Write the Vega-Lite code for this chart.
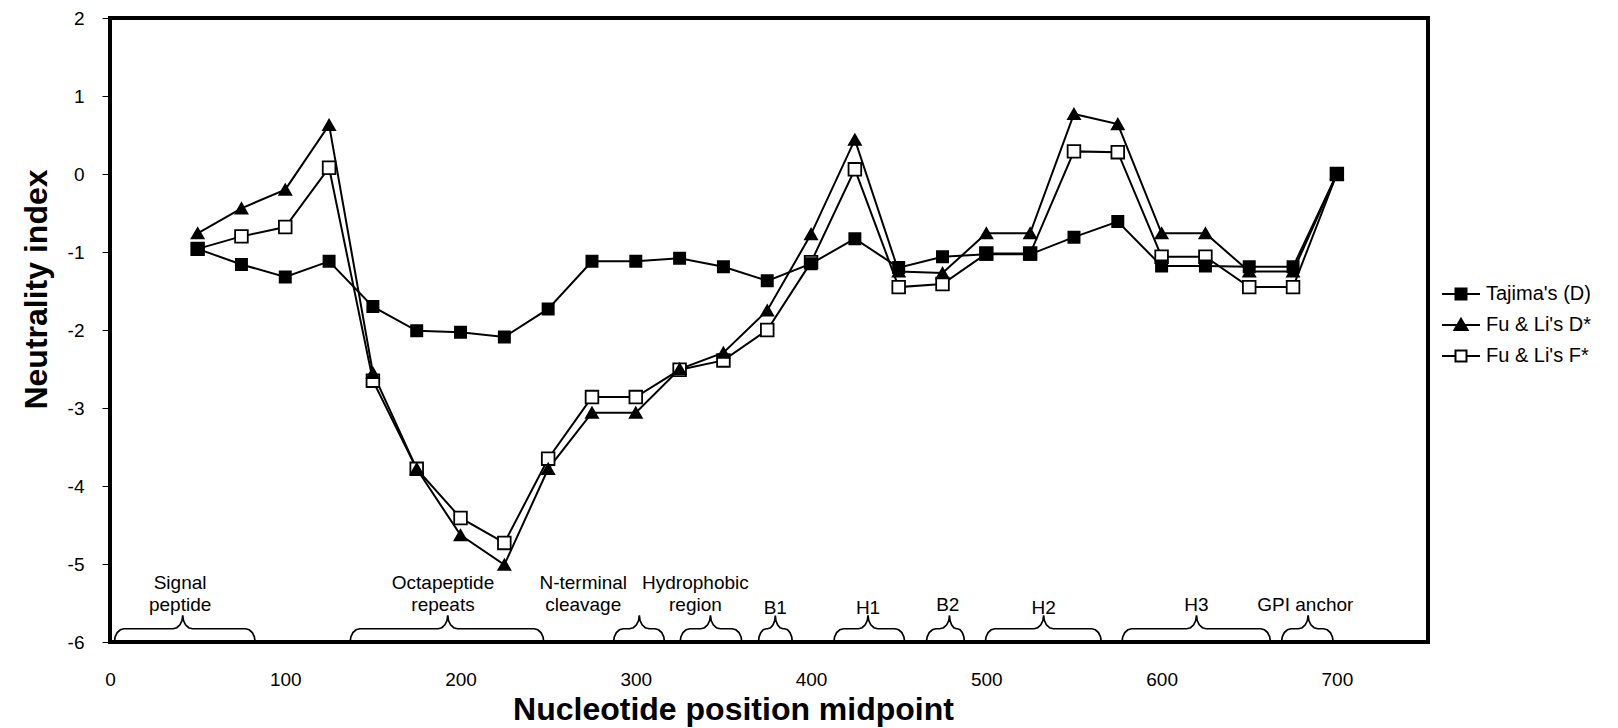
{
  "$schema": "https://vega.github.io/schema/vega-lite/v6.json",
  "width": 1318,
  "height": 624,
  "autosize": {"type": "none"},
  "padding": {"left": 110, "top": 18, "right": 190, "bottom": 86},
  "background": "white",
  "config": {
    "font": "Liberation Sans",
    "view": {"stroke": "black", "strokeWidth": 4},
    "axis": {
      "grid": false,
      "labelFont": "Liberation Sans",
      "labelFontSize": 19,
      "labelColor": "black",
      "titleFont": "Liberation Sans",
      "titleFontSize": 32,
      "titleFontWeight": "bold",
      "titleColor": "black"
    }
  },
  "datasets": {
    "main": [
      {"pos": 50, "series": "Fu & Li's F*", "value": -0.96},
      {"pos": 75, "series": "Fu & Li's F*", "value": -0.80},
      {"pos": 100, "series": "Fu & Li's F*", "value": -0.68},
      {"pos": 125, "series": "Fu & Li's F*", "value": 0.08},
      {"pos": 150, "series": "Fu & Li's F*", "value": -2.65},
      {"pos": 175, "series": "Fu & Li's F*", "value": -3.78},
      {"pos": 200, "series": "Fu & Li's F*", "value": -4.41},
      {"pos": 225, "series": "Fu & Li's F*", "value": -4.73},
      {"pos": 250, "series": "Fu & Li's F*", "value": -3.65},
      {"pos": 275, "series": "Fu & Li's F*", "value": -2.86},
      {"pos": 300, "series": "Fu & Li's F*", "value": -2.86},
      {"pos": 325, "series": "Fu & Li's F*", "value": -2.51},
      {"pos": 350, "series": "Fu & Li's F*", "value": -2.39},
      {"pos": 375, "series": "Fu & Li's F*", "value": -2.00},
      {"pos": 400, "series": "Fu & Li's F*", "value": -1.13},
      {"pos": 425, "series": "Fu & Li's F*", "value": 0.06},
      {"pos": 450, "series": "Fu & Li's F*", "value": -1.45},
      {"pos": 475, "series": "Fu & Li's F*", "value": -1.41},
      {"pos": 500, "series": "Fu & Li's F*", "value": -1.02},
      {"pos": 525, "series": "Fu & Li's F*", "value": -1.02},
      {"pos": 550, "series": "Fu & Li's F*", "value": 0.29},
      {"pos": 575, "series": "Fu & Li's F*", "value": 0.28},
      {"pos": 600, "series": "Fu & Li's F*", "value": -1.06},
      {"pos": 625, "series": "Fu & Li's F*", "value": -1.06},
      {"pos": 650, "series": "Fu & Li's F*", "value": -1.45},
      {"pos": 675, "series": "Fu & Li's F*", "value": -1.45},
      {"pos": 700, "series": "Fu & Li's F*", "value": 0},
      {"pos": 50, "series": "Fu & Li's D*", "value": -0.76},
      {"pos": 75, "series": "Fu & Li's D*", "value": -0.44},
      {"pos": 100, "series": "Fu & Li's D*", "value": -0.20},
      {"pos": 125, "series": "Fu & Li's D*", "value": 0.63},
      {"pos": 150, "series": "Fu & Li's D*", "value": -2.55},
      {"pos": 175, "series": "Fu & Li's D*", "value": -3.78},
      {"pos": 200, "series": "Fu & Li's D*", "value": -4.63},
      {"pos": 225, "series": "Fu & Li's D*", "value": -5.01},
      {"pos": 250, "series": "Fu & Li's D*", "value": -3.78},
      {"pos": 275, "series": "Fu & Li's D*", "value": -3.06},
      {"pos": 300, "series": "Fu & Li's D*", "value": -3.06},
      {"pos": 325, "series": "Fu & Li's D*", "value": -2.50},
      {"pos": 350, "series": "Fu & Li's D*", "value": -2.29},
      {"pos": 375, "series": "Fu & Li's D*", "value": -1.75},
      {"pos": 400, "series": "Fu & Li's D*", "value": -0.77},
      {"pos": 425, "series": "Fu & Li's D*", "value": 0.44},
      {"pos": 450, "series": "Fu & Li's D*", "value": -1.25},
      {"pos": 475, "series": "Fu & Li's D*", "value": -1.27},
      {"pos": 500, "series": "Fu & Li's D*", "value": -0.76},
      {"pos": 525, "series": "Fu & Li's D*", "value": -0.76},
      {"pos": 550, "series": "Fu & Li's D*", "value": 0.77},
      {"pos": 575, "series": "Fu & Li's D*", "value": 0.64},
      {"pos": 600, "series": "Fu & Li's D*", "value": -0.76},
      {"pos": 625, "series": "Fu & Li's D*", "value": -0.76},
      {"pos": 650, "series": "Fu & Li's D*", "value": -1.25},
      {"pos": 675, "series": "Fu & Li's D*", "value": -1.25},
      {"pos": 700, "series": "Fu & Li's D*", "value": 0},
      {"pos": 50, "series": "Tajima's (D)", "value": -0.96},
      {"pos": 75, "series": "Tajima's (D)", "value": -1.16},
      {"pos": 100, "series": "Tajima's (D)", "value": -1.32},
      {"pos": 125, "series": "Tajima's (D)", "value": -1.12},
      {"pos": 150, "series": "Tajima's (D)", "value": -1.70},
      {"pos": 175, "series": "Tajima's (D)", "value": -2.01},
      {"pos": 200, "series": "Tajima's (D)", "value": -2.03},
      {"pos": 225, "series": "Tajima's (D)", "value": -2.09},
      {"pos": 250, "series": "Tajima's (D)", "value": -1.73},
      {"pos": 275, "series": "Tajima's (D)", "value": -1.12},
      {"pos": 300, "series": "Tajima's (D)", "value": -1.12},
      {"pos": 325, "series": "Tajima's (D)", "value": -1.08},
      {"pos": 350, "series": "Tajima's (D)", "value": -1.19},
      {"pos": 375, "series": "Tajima's (D)", "value": -1.37},
      {"pos": 400, "series": "Tajima's (D)", "value": -1.15},
      {"pos": 425, "series": "Tajima's (D)", "value": -0.83},
      {"pos": 450, "series": "Tajima's (D)", "value": -1.20},
      {"pos": 475, "series": "Tajima's (D)", "value": -1.06},
      {"pos": 500, "series": "Tajima's (D)", "value": -1.03},
      {"pos": 525, "series": "Tajima's (D)", "value": -1.03},
      {"pos": 550, "series": "Tajima's (D)", "value": -0.81},
      {"pos": 575, "series": "Tajima's (D)", "value": -0.61},
      {"pos": 600, "series": "Tajima's (D)", "value": -1.18},
      {"pos": 625, "series": "Tajima's (D)", "value": -1.18},
      {"pos": 650, "series": "Tajima's (D)", "value": -1.19},
      {"pos": 675, "series": "Tajima's (D)", "value": -1.19},
      {"pos": 700, "series": "Tajima's (D)", "value": 0}
    ],
    "braces": [
      {"r": "Signal", "x": 2.5, "y": -6}, {"r": "Signal", "x": 2.92, "y": -5.935}, {"r": "Signal", "x": 4.11, "y": -5.88}, {"r": "Signal", "x": 5.89, "y": -5.843}, {"r": "Signal", "x": 8.0, "y": -5.83},
      {"r": "Signal", "x": 36.0, "y": -5.83}, {"r": "Signal", "x": 38.11, "y": -5.817}, {"r": "Signal", "x": 39.89, "y": -5.78}, {"r": "Signal", "x": 41.08, "y": -5.725}, {"r": "Signal", "x": 41.5, "y": -5.66},
      {"r": "Signal", "x": 41.92, "y": -5.725}, {"r": "Signal", "x": 43.11, "y": -5.78}, {"r": "Signal", "x": 44.89, "y": -5.817}, {"r": "Signal", "x": 47.0, "y": -5.83},
      {"r": "Signal", "x": 77.3, "y": -5.83}, {"r": "Signal", "x": 79.41, "y": -5.843}, {"r": "Signal", "x": 81.19, "y": -5.88}, {"r": "Signal", "x": 82.38, "y": -5.935}, {"r": "Signal", "x": 82.8, "y": -6},

      {"r": "Octa", "x": 137, "y": -6}, {"r": "Octa", "x": 137.42, "y": -5.935}, {"r": "Octa", "x": 138.61, "y": -5.88}, {"r": "Octa", "x": 140.39, "y": -5.843}, {"r": "Octa", "x": 142.5, "y": -5.83},
      {"r": "Octa", "x": 187.2, "y": -5.83}, {"r": "Octa", "x": 189.31, "y": -5.817}, {"r": "Octa", "x": 191.09, "y": -5.78}, {"r": "Octa", "x": 192.28, "y": -5.725}, {"r": "Octa", "x": 192.7, "y": -5.66},
      {"r": "Octa", "x": 193.12, "y": -5.725}, {"r": "Octa", "x": 194.31, "y": -5.78}, {"r": "Octa", "x": 196.09, "y": -5.817}, {"r": "Octa", "x": 198.2, "y": -5.83},
      {"r": "Octa", "x": 242.0, "y": -5.83}, {"r": "Octa", "x": 244.11, "y": -5.843}, {"r": "Octa", "x": 245.89, "y": -5.88}, {"r": "Octa", "x": 247.08, "y": -5.935}, {"r": "Octa", "x": 247.5, "y": -6},

      {"r": "Nterm", "x": 287.3, "y": -6}, {"r": "Nterm", "x": 287.72, "y": -5.935}, {"r": "Nterm", "x": 288.91, "y": -5.88}, {"r": "Nterm", "x": 290.69, "y": -5.843}, {"r": "Nterm", "x": 292.8, "y": -5.83},
      {"r": "Nterm", "x": 296.5, "y": -5.83}, {"r": "Nterm", "x": 298.61, "y": -5.817}, {"r": "Nterm", "x": 300.39, "y": -5.78}, {"r": "Nterm", "x": 301.58, "y": -5.725}, {"r": "Nterm", "x": 302, "y": -5.66},
      {"r": "Nterm", "x": 302.42, "y": -5.725}, {"r": "Nterm", "x": 303.61, "y": -5.78}, {"r": "Nterm", "x": 305.39, "y": -5.817}, {"r": "Nterm", "x": 307.5, "y": -5.83},
      {"r": "Nterm", "x": 310.9, "y": -5.83}, {"r": "Nterm", "x": 313.01, "y": -5.843}, {"r": "Nterm", "x": 314.79, "y": -5.88}, {"r": "Nterm", "x": 315.98, "y": -5.935}, {"r": "Nterm", "x": 316.4, "y": -6},

      {"r": "Hydro", "x": 325.3, "y": -6}, {"r": "Hydro", "x": 325.72, "y": -5.935}, {"r": "Hydro", "x": 326.91, "y": -5.88}, {"r": "Hydro", "x": 328.69, "y": -5.843}, {"r": "Hydro", "x": 330.8, "y": -5.83},
      {"r": "Hydro", "x": 337.1, "y": -5.83}, {"r": "Hydro", "x": 339.21, "y": -5.817}, {"r": "Hydro", "x": 340.99, "y": -5.78}, {"r": "Hydro", "x": 342.18, "y": -5.725}, {"r": "Hydro", "x": 342.6, "y": -5.66},
      {"r": "Hydro", "x": 343.02, "y": -5.725}, {"r": "Hydro", "x": 344.21, "y": -5.78}, {"r": "Hydro", "x": 345.99, "y": -5.817}, {"r": "Hydro", "x": 348.1, "y": -5.83},
      {"r": "Hydro", "x": 355.0, "y": -5.83}, {"r": "Hydro", "x": 357.11, "y": -5.843}, {"r": "Hydro", "x": 358.89, "y": -5.88}, {"r": "Hydro", "x": 360.08, "y": -5.935}, {"r": "Hydro", "x": 360.5, "y": -6},

      {"r": "B1", "x": 370, "y": -6}, {"r": "B1", "x": 370.33, "y": -5.935}, {"r": "B1", "x": 371.29, "y": -5.88}, {"r": "B1", "x": 372.71, "y": -5.843}, {"r": "B1", "x": 374.4, "y": -5.83},
      {"r": "B1", "x": 375.2, "y": -5.83}, {"r": "B1", "x": 376.89, "y": -5.817}, {"r": "B1", "x": 378.31, "y": -5.78}, {"r": "B1", "x": 379.27, "y": -5.725}, {"r": "B1", "x": 379.6, "y": -5.66},
      {"r": "B1", "x": 379.93, "y": -5.725}, {"r": "B1", "x": 380.89, "y": -5.78}, {"r": "B1", "x": 382.31, "y": -5.817}, {"r": "B1", "x": 384.0, "y": -5.83},
      {"r": "B1", "x": 384.9, "y": -5.83}, {"r": "B1", "x": 386.59, "y": -5.843}, {"r": "B1", "x": 388.01, "y": -5.88}, {"r": "B1", "x": 388.97, "y": -5.935}, {"r": "B1", "x": 389.3, "y": -6},

      {"r": "H1", "x": 413, "y": -6}, {"r": "H1", "x": 413.42, "y": -5.935}, {"r": "H1", "x": 414.61, "y": -5.88}, {"r": "H1", "x": 416.39, "y": -5.843}, {"r": "H1", "x": 418.5, "y": -5.83},
      {"r": "H1", "x": 427.0, "y": -5.83}, {"r": "H1", "x": 429.11, "y": -5.817}, {"r": "H1", "x": 430.89, "y": -5.78}, {"r": "H1", "x": 432.08, "y": -5.725}, {"r": "H1", "x": 432.5, "y": -5.66},
      {"r": "H1", "x": 432.92, "y": -5.725}, {"r": "H1", "x": 434.11, "y": -5.78}, {"r": "H1", "x": 435.89, "y": -5.817}, {"r": "H1", "x": 438.0, "y": -5.83},
      {"r": "H1", "x": 447.9, "y": -5.83}, {"r": "H1", "x": 450.01, "y": -5.843}, {"r": "H1", "x": 451.79, "y": -5.88}, {"r": "H1", "x": 452.98, "y": -5.935}, {"r": "H1", "x": 453.4, "y": -6},

      {"r": "B2", "x": 465.8, "y": -6}, {"r": "B2", "x": 466.22, "y": -5.935}, {"r": "B2", "x": 467.41, "y": -5.88}, {"r": "B2", "x": 469.19, "y": -5.843}, {"r": "B2", "x": 471.3, "y": -5.83},
      {"r": "B2", "x": 473.5, "y": -5.83}, {"r": "B2", "x": 475.61, "y": -5.817}, {"r": "B2", "x": 477.39, "y": -5.78}, {"r": "B2", "x": 478.58, "y": -5.725}, {"r": "B2", "x": 479, "y": -5.66},
      {"r": "B2", "x": 479.3, "y": -5.725}, {"r": "B2", "x": 480.17, "y": -5.78}, {"r": "B2", "x": 481.47, "y": -5.817}, {"r": "B2", "x": 483.0, "y": -5.83},
      {"r": "B2", "x": 483.5, "y": -5.83}, {"r": "B2", "x": 485.03, "y": -5.843}, {"r": "B2", "x": 486.33, "y": -5.88}, {"r": "B2", "x": 487.2, "y": -5.935}, {"r": "B2", "x": 487.5, "y": -6},

      {"r": "H2", "x": 499.4, "y": -6}, {"r": "H2", "x": 499.82, "y": -5.935}, {"r": "H2", "x": 501.01, "y": -5.88}, {"r": "H2", "x": 502.79, "y": -5.843}, {"r": "H2", "x": 504.9, "y": -5.83},
      {"r": "H2", "x": 527.2, "y": -5.83}, {"r": "H2", "x": 529.31, "y": -5.817}, {"r": "H2", "x": 531.09, "y": -5.78}, {"r": "H2", "x": 532.28, "y": -5.725}, {"r": "H2", "x": 532.7, "y": -5.66},
      {"r": "H2", "x": 533.12, "y": -5.725}, {"r": "H2", "x": 534.31, "y": -5.78}, {"r": "H2", "x": 536.09, "y": -5.817}, {"r": "H2", "x": 538.2, "y": -5.83},
      {"r": "H2", "x": 560.1, "y": -5.83}, {"r": "H2", "x": 562.21, "y": -5.843}, {"r": "H2", "x": 563.99, "y": -5.88}, {"r": "H2", "x": 565.18, "y": -5.935}, {"r": "H2", "x": 565.6, "y": -6},

      {"r": "H3", "x": 577.4, "y": -6}, {"r": "H3", "x": 577.82, "y": -5.935}, {"r": "H3", "x": 579.01, "y": -5.88}, {"r": "H3", "x": 580.79, "y": -5.843}, {"r": "H3", "x": 582.9, "y": -5.83},
      {"r": "H3", "x": 614.4, "y": -5.83}, {"r": "H3", "x": 616.51, "y": -5.817}, {"r": "H3", "x": 618.29, "y": -5.78}, {"r": "H3", "x": 619.48, "y": -5.725}, {"r": "H3", "x": 619.9, "y": -5.66},
      {"r": "H3", "x": 620.32, "y": -5.725}, {"r": "H3", "x": 621.51, "y": -5.78}, {"r": "H3", "x": 623.29, "y": -5.817}, {"r": "H3", "x": 625.4, "y": -5.83},
      {"r": "H3", "x": 656.6, "y": -5.83}, {"r": "H3", "x": 658.71, "y": -5.843}, {"r": "H3", "x": 660.49, "y": -5.88}, {"r": "H3", "x": 661.68, "y": -5.935}, {"r": "H3", "x": 662.1, "y": -6},

      {"r": "GPI", "x": 668.4, "y": -6}, {"r": "GPI", "x": 668.82, "y": -5.935}, {"r": "GPI", "x": 670.01, "y": -5.88}, {"r": "GPI", "x": 671.79, "y": -5.843}, {"r": "GPI", "x": 673.9, "y": -5.83},
      {"r": "GPI", "x": 678.1, "y": -5.83}, {"r": "GPI", "x": 680.21, "y": -5.817}, {"r": "GPI", "x": 681.99, "y": -5.78}, {"r": "GPI", "x": 683.18, "y": -5.725}, {"r": "GPI", "x": 683.6, "y": -5.66},
      {"r": "GPI", "x": 684.02, "y": -5.725}, {"r": "GPI", "x": 685.21, "y": -5.78}, {"r": "GPI", "x": 686.99, "y": -5.817}, {"r": "GPI", "x": 689.1, "y": -5.83},
      {"r": "GPI", "x": 692.4, "y": -5.83}, {"r": "GPI", "x": 694.51, "y": -5.843}, {"r": "GPI", "x": 696.29, "y": -5.88}, {"r": "GPI", "x": 697.48, "y": -5.935}, {"r": "GPI", "x": 697.9, "y": -6}
    ],
    "labels": [
      {"t": "Signal", "x": 40, "y": -5.24},
      {"t": "peptide", "x": 40, "y": -5.53},
      {"t": "Octapeptide", "x": 190, "y": -5.24},
      {"t": "repeats", "x": 190, "y": -5.53},
      {"t": "N-terminal", "x": 270, "y": -5.24},
      {"t": "cleavage", "x": 270, "y": -5.53},
      {"t": "Hydrophobic", "x": 334, "y": -5.24},
      {"t": "region", "x": 334, "y": -5.53},
      {"t": "B1", "x": 379.6, "y": -5.56},
      {"t": "H1", "x": 432.5, "y": -5.56},
      {"t": "B2", "x": 478, "y": -5.52},
      {"t": "H2", "x": 532.7, "y": -5.56},
      {"t": "H3", "x": 619.9, "y": -5.52},
      {"t": "GPI anchor", "x": 682, "y": -5.52}
    ]
  },
  "layer": [
    {
      "mark": {"type": "rule", "color": "#6e6e6e", "strokeWidth": 1.3},
      "encoding": {
        "y": {"datum": 0, "type": "quantitative", "scale": {"domain": [-6, 2], "nice": false, "zero": false}}
      }
    },
    {
      "data": {"name": "braces"},
      "mark": {"type": "line", "color": "black", "strokeWidth": 1.7},
      "encoding": {
        "x": {"field": "x", "type": "quantitative", "scale": {"domain": [0, 752], "nice": false, "zero": false}},
        "y": {"field": "y", "type": "quantitative", "scale": {"domain": [-6, 2], "nice": false, "zero": false}},
        "detail": {"field": "r", "type": "nominal"}
      }
    },
    {
      "data": {"name": "labels"},
      "mark": {"type": "text", "align": "center", "baseline": "middle", "font": "Liberation Sans", "fontSize": 19, "color": "black"},
      "encoding": {
        "x": {"field": "x", "type": "quantitative", "scale": {"domain": [0, 752], "nice": false, "zero": false}},
        "y": {"field": "y", "type": "quantitative", "scale": {"domain": [-6, 2], "nice": false, "zero": false}},
        "text": {"field": "t", "type": "nominal"}
      }
    },
    {
      "data": {"name": "main"},
      "mark": {"type": "line", "color": "black", "strokeWidth": 2},
      "encoding": {
        "x": {
          "field": "pos", "type": "quantitative",
          "scale": {"domain": [0, 752], "nice": false, "zero": false},
          "axis": {
            "title": "Nucleotide position midpoint",
            "values": [0, 100, 200, 300, 400, 500, 600, 700],
            "domain": false, "ticks": false, "labelPadding": 28, "titlePadding": 5,
            "labelFlush": false, "labelDx": -4, "titleX": 623
          }
        },
        "y": {
          "field": "value", "type": "quantitative",
          "scale": {"domain": [-6, 2], "nice": false, "zero": false},
          "axis": {
            "title": "Neutrality index",
            "values": [-6, -5, -4, -3, -2, -1, 0, 1, 2],
            "labelExpr": "datum.value < 0 ? '-' + abs(datum.value) : '' + datum.value",
            "domain": false, "ticks": true, "tickSize": 8, "tickColor": "black", "tickWidth": 1,
            "labelPadding": 18, "titlePadding": 14, "labelFlush": false, "titleY": 271
          }
        },
        "detail": {"field": "series", "type": "nominal"}
      }
    },
    {
      "data": {"name": "main"},
      "mark": {"type": "point", "filled": true, "stroke": "black", "strokeWidth": 1.8, "opacity": 1},
      "encoding": {
        "x": {"field": "pos", "type": "quantitative", "scale": {"domain": [0, 752], "nice": false, "zero": false}},
        "y": {"field": "value", "type": "quantitative", "scale": {"domain": [-6, 2], "nice": false, "zero": false}},
        "shape": {
          "field": "series", "type": "nominal",
          "scale": {"domain": ["Tajima's (D)", "Fu & Li's D*", "Fu & Li's F*"], "range": ["square", "triangle-up", "square"]},
          "legend": null
        },
        "fill": {
          "field": "series", "type": "nominal",
          "scale": {"domain": ["Tajima's (D)", "Fu & Li's D*", "Fu & Li's F*"], "range": ["black", "black", "white"]},
          "legend": null
        },
        "size": {
          "field": "series", "type": "nominal",
          "scale": {"domain": ["Tajima's (D)", "Fu & Li's D*", "Fu & Li's F*"], "range": [125, 160, 110]},
          "legend": null
        }
      }
    },
    {
      "data": {"name": "main"},
      "transform": [{"filter": "datum.pos == 700"}],
      "mark": {"type": "point", "filled": true, "strokeWidth": 2, "opacity": 0},
      "encoding": {
        "x": {"field": "pos", "type": "quantitative", "scale": {"domain": [0, 752], "nice": false, "zero": false}},
        "y": {"field": "value", "type": "quantitative", "scale": {"domain": [-6, 2], "nice": false, "zero": false}},
        "shape": {
          "field": "series", "type": "nominal",
          "scale": {
            "domain": ["Tajima's (D)", "Fu & Li's D*", "Fu & Li's F*"],
            "range": [
              "M-1.9,0H1.9M-0.55,-0.55H0.55V0.55H-0.55Z",
              "M-1.9,0H1.9M0,-0.62L0.66,0.5H-0.66Z",
              "M-1.9,0H-0.55M0.55,0H1.9M-0.55,-0.55H0.55V0.55H-0.55Z"
            ]
          },
          "legend": {
            "orient": "none", "legendX": 1340, "legendY": 265, "title": null,
            "symbolSize": 400, "symbolStrokeWidth": 2, "symbolOpacity": 1,
            "labelFont": "Liberation Sans", "labelFontSize": 20, "labelColor": "black", "labelOffset": 14,
            "rowPadding": 10, "padding": 0, "labelLimit": 300
          }
        },
        "fill": {
          "field": "series", "type": "nominal",
          "scale": {"domain": ["Tajima's (D)", "Fu & Li's D*", "Fu & Li's F*"], "range": ["black", "black", "white"]},
          "legend": {
            "orient": "none", "legendX": 1340, "legendY": 265, "title": null,
            "symbolSize": 400, "symbolStrokeWidth": 2, "symbolOpacity": 1,
            "labelFont": "Liberation Sans", "labelFontSize": 20, "labelColor": "black", "labelOffset": 14,
            "rowPadding": 10, "padding": 0, "labelLimit": 300
          }
        },
        "stroke": {
          "field": "series", "type": "nominal",
          "scale": {"domain": ["Tajima's (D)", "Fu & Li's D*", "Fu & Li's F*"], "range": ["black", "black", "black"]},
          "legend": {
            "orient": "none", "legendX": 1340, "legendY": 265, "title": null,
            "symbolSize": 400, "symbolStrokeWidth": 2, "symbolOpacity": 1,
            "labelFont": "Liberation Sans", "labelFontSize": 20, "labelColor": "black", "labelOffset": 14,
            "rowPadding": 10, "padding": 0, "labelLimit": 300
          }
        }
      }
    }
  ],
  "resolve": {"scale": {"shape": "independent", "fill": "independent", "size": "independent", "stroke": "independent"}}
}
